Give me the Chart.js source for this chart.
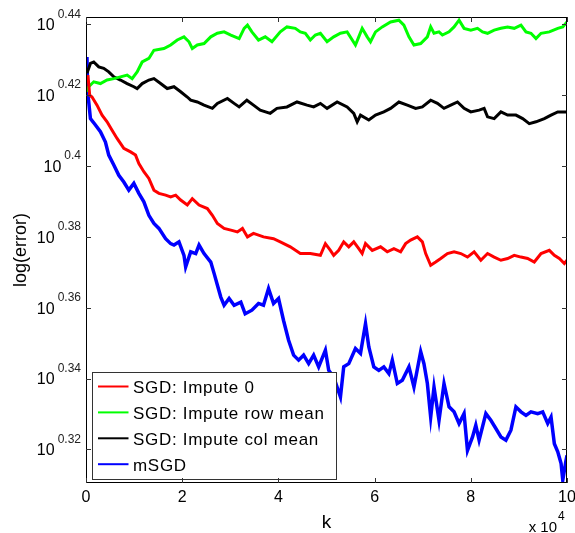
<!DOCTYPE html>
<html>
<head>
<meta charset="utf-8">
<script src="https://cdn.jsdelivr.net/npm/chart.js@4.4.1/dist/chart.umd.min.js"></script>
<style>
  html, body { margin: 0; padding: 0; background: #fff; }
  #chart { display: block; }
</style>
</head>
<body>
<canvas id="chart" width="575" height="533"></canvas>
<script>
const FONT = '"Liberation Sans", Arial, Helvetica, sans-serif';

const xTicks = [0, 20000, 40000, 60000, 80000, 100000];
const yTicks = [0.32, 0.34, 0.36, 0.38, 0.40, 0.42, 0.44];
const seriesNames = ['SGD: Impute 0', 'SGD: Impute row mean', 'SGD: Impute col mean', 'mSGD'];
const seriesColors = ['#ff0000', '#00ff00', '#000000', '#0000ff'];

// k (iterations) and log10(error)
const kRed = [400, 770, 1250, 2290, 3340, 4380, 5420, 6460, 7860, 9260, 10300, 10990, 12030, 13070, 14120, 15160,
  16550, 17600, 18640, 19680, 21060, 22100, 23500, 25230, 26270, 27310, 28710, 30110, 31480, 32530, 33570, 34820,
  36900, 38990, 40390, 42470, 44560, 46640, 48730, 49770, 50810, 51500, 52540, 53580, 54630, 55670, 56710, 57420,
  58110, 59510, 61240, 62630, 64010, 65410, 66450, 67490, 68890, 69930, 70620, 71660, 72700, 73750, 75140, 76520,
  77920, 79310, 80690, 82090, 83480, 84860, 86260, 87650, 89030, 90430, 91820, 93200, 94600, 96330, 97370, 98410,
  99450, 100000];
const eRed = [0.4257, 0.4200, 0.4195, 0.4172, 0.4144, 0.4125, 0.4101, 0.4078, 0.4050, 0.4040, 0.4031, 0.4007, 0.3984,
  0.3965, 0.3932, 0.3923, 0.3918, 0.3913, 0.3918, 0.3904, 0.3890, 0.3908, 0.3890, 0.3880, 0.3861, 0.3838, 0.3824,
  0.3819, 0.3814, 0.3824, 0.3800, 0.3810, 0.3800, 0.3795, 0.3786, 0.3772, 0.3753, 0.3753, 0.3748, 0.3781, 0.3762,
  0.3748, 0.3762, 0.3786, 0.3772, 0.3786, 0.3767, 0.3753, 0.3781, 0.3762, 0.3772, 0.3758, 0.3767, 0.3758, 0.3781,
  0.3791, 0.3800, 0.3786, 0.3753, 0.3720, 0.3729, 0.3739, 0.3753, 0.3758, 0.3753, 0.3743, 0.3758, 0.3734, 0.3753,
  0.3743, 0.3734, 0.3739, 0.3748, 0.3743, 0.3739, 0.3729, 0.3753, 0.3762, 0.3748, 0.3739, 0.3725, 0.3734];

const kGreen = [200, 560, 1610, 3000, 4380, 5780, 7170, 8550, 9590, 10630, 11680, 13070, 14120, 16200, 17600, 18970,
  20370, 21410, 22100, 23140, 24540, 25940, 27310, 28710, 30110, 31840, 32880, 33570, 34490, 35860, 37260, 38660,
  40390, 41780, 43510, 44560, 45600, 46640, 47680, 48730, 50120, 51500, 52900, 54290, 56020, 56710, 57420, 58460,
  59150, 60190, 61590, 63320, 65050, 66090, 67140, 68180, 69580, 70970, 71660, 72350, 73390, 74100, 75480, 76520,
  77560, 78600, 80000, 81390, 82440, 83480, 84860, 86260, 87650, 89030, 90430, 91470, 92510, 93550, 94600, 96330,
  98080, 99120, 100000];
const eGreen = [0.4210, 0.4224, 0.4238, 0.4233, 0.4243, 0.4247, 0.4252, 0.4257, 0.4247, 0.4266, 0.4294, 0.4304,
  0.4327, 0.4332, 0.4342, 0.4356, 0.4365, 0.4351, 0.4332, 0.4342, 0.4346, 0.4365, 0.4375, 0.4379, 0.4370, 0.4360,
  0.4389, 0.4398, 0.4379, 0.4356, 0.4365, 0.4351, 0.4379, 0.4393, 0.4389, 0.4379, 0.4375, 0.4356, 0.4370, 0.4375,
  0.4351, 0.4365, 0.4375, 0.4379, 0.4342, 0.4365, 0.4389, 0.4365, 0.4351, 0.4379, 0.4393, 0.4407, 0.4412, 0.4398,
  0.4365, 0.4342, 0.4346, 0.4365, 0.4393, 0.4375, 0.4379, 0.4370, 0.4379, 0.4393, 0.4412, 0.4389, 0.4384, 0.4389,
  0.4379, 0.4375, 0.4384, 0.4389, 0.4393, 0.4389, 0.4398, 0.4379, 0.4375, 0.4360, 0.4375, 0.4379, 0.4389, 0.4393,
  0.4407];

const kBlack = [200, 920, 1610, 2650, 3690, 4730, 5780, 7170, 8550, 9950, 10630, 11680, 13070, 14120, 15510, 16890,
  18290, 19680, 21060, 21770, 23140, 24540, 26270, 27310, 29400, 30790, 31840, 33440, 34820, 36220, 38300, 39700,
  41780, 43870, 45950, 47330, 48730, 50120, 52210, 54290, 55670, 56380, 57070, 58800, 60190, 61920, 63320, 65050,
  66800, 68530, 69930, 71660, 73060, 74430, 75830, 77230, 78600, 80000, 81730, 82770, 83480, 84860, 86260, 87650,
  89380, 90780, 92160, 93550, 95290, 96680, 98080, 100000];
const eBlack = [0.4262, 0.4290, 0.4294, 0.4280, 0.4276, 0.4266, 0.4252, 0.4243, 0.4233, 0.4224, 0.4219, 0.4233,
  0.4243, 0.4247, 0.4233, 0.4219, 0.4224, 0.4210, 0.4195, 0.4186, 0.4181, 0.4172, 0.4163, 0.4177, 0.4191, 0.4177,
  0.4167, 0.4186, 0.4172, 0.4158, 0.4149, 0.4163, 0.4167, 0.4181, 0.4172, 0.4167, 0.4177, 0.4163, 0.4181, 0.4167,
  0.4149, 0.4125, 0.4144, 0.4130, 0.4144, 0.4153, 0.4163, 0.4181, 0.4172, 0.4163, 0.4167, 0.4186, 0.4177, 0.4163,
  0.4172, 0.4181, 0.4163, 0.4153, 0.4158, 0.4163, 0.4139, 0.4134, 0.4153, 0.4144, 0.4144, 0.4134, 0.4120, 0.4125,
  0.4134, 0.4144, 0.4153, 0.4153];

const kBlue = [200, 350, 920, 1960, 3000, 4040, 4730, 5780, 6820, 7860, 8900, 9950, 10990, 12030, 13070, 14120, 15160,
  16550, 17600, 18290, 19330, 20370, 20720, 21770, 22810, 23500, 24540, 25940, 26630, 27310, 28020, 28710, 29750,
  30790, 32190, 33090, 34490, 35860, 36900, 37950, 38990, 40030, 41070, 42120, 43160, 44200, 45240, 46290, 47330,
  48370, 49770, 50460, 51500, 52900, 53580, 54630, 56020, 57070, 58110, 58800, 59840, 60880, 61920, 62970, 63680,
  64720, 65760, 67140, 68180, 69580, 70260, 70970, 71660, 72350, 73390, 74430, 75480, 76520, 77560, 78600, 79310,
  80360, 81040, 81730, 83130, 84170, 85210, 86260, 87300, 88340, 89380, 90430, 91470, 92510, 93910, 94950, 95990,
  96680, 97370, 98080, 98770, 99120, 99800, 100000];
const eBlue = [0.4308, 0.4210, 0.4134, 0.4116, 0.4097, 0.4068, 0.4031, 0.4003, 0.3974, 0.3955, 0.3932, 0.3951, 0.3923,
  0.3899, 0.3861, 0.3838, 0.3824, 0.3795, 0.3781, 0.3777, 0.3786, 0.3748, 0.3715, 0.3758, 0.3753, 0.3777, 0.3753,
  0.3729, 0.3697, 0.3664, 0.3630, 0.3607, 0.3626, 0.3607, 0.3616, 0.3583, 0.3593, 0.3612, 0.3607, 0.3654, 0.3612,
  0.3626, 0.3564, 0.3508, 0.3466, 0.3452, 0.3466, 0.3442, 0.3466, 0.3433, 0.3480, 0.3423, 0.3404, 0.3348, 0.3433,
  0.3442, 0.3485, 0.3471, 0.3555, 0.3489, 0.3433, 0.3423, 0.3433, 0.3414, 0.3452, 0.3386, 0.3395, 0.3433, 0.3376,
  0.3476, 0.3442, 0.3386, 0.3291, 0.3376, 0.3282, 0.3386, 0.3320, 0.3306, 0.3273, 0.3301, 0.3197, 0.3235, 0.3268,
  0.3226, 0.3301, 0.3282, 0.3259, 0.3235, 0.3226, 0.3254, 0.3320, 0.3306, 0.3296, 0.3306, 0.3301, 0.3306, 0.3273,
  0.3291, 0.3216, 0.3193, 0.3160, 0.3113, 0.3169, 0.3183];

const pairs = (ks, es) => ks.map((k, i) => ({ x: k, y: es[i] }));
const seriesData = [pairs(kRed, eRed), pairs(kGreen, eGreen), pairs(kBlack, eBlack), pairs(kBlue, eBlue)];

// MATLAB style box, inward ticks, 10^x labels and the legend
const matlabFrame = {
  id: 'matlabFrame',
  afterDatasetsDraw(chart) {
    const { ctx } = chart;
    const lx = 92, ly = 372, lw = 244, lh = 107;
    ctx.save();
    ctx.fillStyle = '#fff';
    ctx.fillRect(lx, ly, lw, lh);
    ctx.strokeStyle = '#333';
    ctx.lineWidth = 1;
    ctx.strokeRect(lx + 0.5, ly + 0.5, lw, lh);
    ctx.font = '17px ' + FONT;
    ctx.letterSpacing = '0.7px';
    ctx.textAlign = 'left';
    ctx.textBaseline = 'alphabetic';
    chart.data.datasets.forEach((ds, i) => {
      const y = 386.5 + i * 25.9;
      ctx.strokeStyle = ds.borderColor;
      ctx.lineWidth = 2;
      ctx.beginPath();
      ctx.moveTo(98, y);
      ctx.lineTo(128.5, y);
      ctx.stroke();
      ctx.fillStyle = '#000';
      ctx.fillText(ds.label, 133, y + 6.5);
    });
    ctx.restore();
  },
  afterDraw(chart) {
    const { ctx, chartArea: a } = chart;
    const xs = chart.scales.x, ys = chart.scales.y;
    ctx.save();
    ctx.strokeStyle = '#000';
    ctx.lineWidth = 1;
    ctx.strokeRect(a.left + 0.5, a.top + 0.5, a.right - a.left - 1, a.bottom - a.top - 1);

    ctx.strokeStyle = '#333';
    ctx.beginPath();
    xTicks.forEach(v => {
      const px = Math.round(xs.getPixelForValue(v)) + 0.5;
      ctx.moveTo(px, a.bottom); ctx.lineTo(px, a.bottom - 5);
      ctx.moveTo(px, a.top); ctx.lineTo(px, a.top + 5);
    });
    yTicks.forEach(v => {
      const py = Math.round(ys.getPixelForValue(v)) + 0.5;
      ctx.moveTo(a.left, py); ctx.lineTo(a.left + 5, py);
      ctx.moveTo(a.right, py); ctx.lineTo(a.right - 5, py);
    });
    ctx.stroke();

    ctx.fillStyle = '#000';
    ctx.textBaseline = 'alphabetic';
    // x tick labels
    ctx.font = '16px ' + FONT;
    ctx.textAlign = 'center';
    xTicks.forEach(v => {
      ctx.fillText(String(v / 10000), xs.getPixelForValue(v), 502);
    });
    // y tick labels as 10^v
    yTicks.forEach(v => {
      const py = ys.getPixelForValue(v);
      const sup = String(+v.toFixed(2));
      ctx.font = '12px ' + FONT;
      ctx.textAlign = 'right';
      ctx.fillStyle = '#222';
      ctx.fillText(sup, 81, py - 6.8);
      const w = ctx.measureText(sup).width;
      ctx.font = '16px ' + FONT;
      ctx.fillStyle = '#000';
      ctx.fillText('10', 81 - w - 3, py + 5.8);
    });
    // axis titles
    ctx.textAlign = 'center';
    ctx.font = '19px ' + FONT;
    ctx.fillText('k', (a.left + a.right) / 2, 528);
    ctx.save();
    ctx.translate(26, (a.top + a.bottom) / 2);
    ctx.rotate(-Math.PI / 2);
    ctx.font = '18px ' + FONT;
    ctx.fillText('log(error)', 0, 0);
    ctx.restore();
    // exponent of the x axis
    ctx.font = '15px ' + FONT;
    ctx.textAlign = 'right';
    ctx.fillText('x 10', 557, 531.5);
    ctx.font = '12px ' + FONT;
    ctx.textAlign = 'left';
    ctx.fillText('4', 558, 520);
    ctx.restore();
  }
};

new Chart(document.getElementById('chart'), {
  type: 'scatter',
  data: {
    datasets: seriesData.map((d, i) => ({
      label: seriesNames[i],
      data: d,
      showLine: true,
      borderColor: seriesColors[i],
      backgroundColor: seriesColors[i],
      borderWidth: i === 3 ? 3.5 : 3,
      pointRadius: 0,
      tension: 0,
    })),
  },
  options: {
    responsive: false,
    animation: false,
    layout: { padding: { top: 17, right: 8, left: 0, bottom: 0 } },
    plugins: {
      legend: { display: false },
      tooltip: { enabled: false },
    },
    scales: {
      x: {
        type: 'linear',
        min: 0,
        max: 100000,
        grid: { display: false, drawTicks: false },
        border: { display: false },
        ticks: { display: false },
        afterBuildTicks: s => { s.ticks = xTicks.map(v => ({ value: v })); },
        afterFit: s => { s.height = 50; },
      },
      y: {
        type: 'linear',
        min: 0.3105,
        max: 0.4421,
        grid: { display: false, drawTicks: false },
        border: { display: false },
        ticks: { display: false },
        afterBuildTicks: s => { s.ticks = yTicks.map(v => ({ value: v })); },
        afterFit: s => { s.width = 86; },
      },
    },
  },
  plugins: [matlabFrame],
});
</script>
</body>
</html>
